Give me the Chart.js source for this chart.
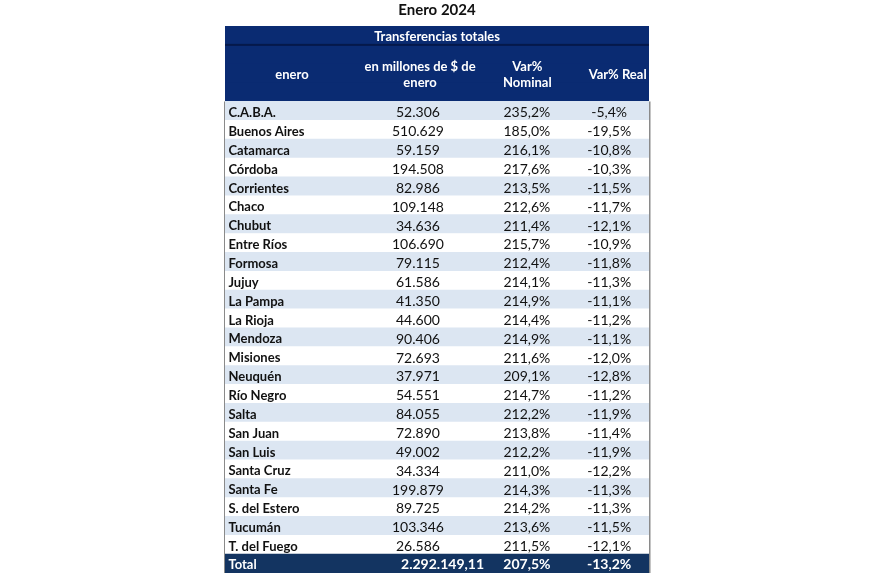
<!DOCTYPE html>
<html>
<head>
<meta charset="utf-8">
<script src="https://cdn.jsdelivr.net/npm/chart.js@4.4.1/dist/chart.umd.min.js"></script>
<style>
  html, body { margin: 0; padding: 0; background: #ffffff; }
  #wrap { width: 870px; height: 580px; }
</style>
</head>
<body>
<div id="wrap"><canvas id="c" width="870" height="580"></canvas></div>
<script>
// ---- Data ----
const provincias = ['C.A.B.A.', 'Buenos Aires', 'Catamarca', 'Córdoba', 'Corrientes', 'Chaco', 'Chubut', 'Entre Ríos', 'Formosa', 'Jujuy', 'La Pampa', 'La Rioja', 'Mendoza', 'Misiones', 'Neuquén', 'Río Negro', 'Salta', 'San Juan', 'San Luis', 'Santa Cruz', 'Santa Fe', 'S. del Estero', 'Tucumán', 'T. del Fuego'];
const montos = [52306, 510629, 59159, 194508, 82986, 109148, 34636, 106690, 79115, 61586, 41350, 44600, 90406, 72693, 37971, 54551, 84055, 72890, 49002, 34334, 199879, 89725, 103346, 26586];
const varNominal = [235.2, 185.0, 216.1, 217.6, 213.5, 212.6, 211.4, 215.7, 212.4, 214.1, 214.9, 214.4, 214.9, 211.6, 209.1, 214.7, 212.2, 213.8, 212.2, 211.0, 214.3, 214.2, 213.6, 211.5];
const varReal = [-5.4, -19.5, -10.8, -10.3, -11.5, -11.7, -12.1, -10.9, -11.8, -11.3, -11.1, -11.2, -11.1, -12.0, -12.8, -11.2, -11.9, -11.4, -11.9, -12.2, -11.3, -11.3, -11.5, -12.1];
const totalLabel = 'Total';
const totalMonto = 2292149.11;
const totalNominal = 207.5;
const totalReal = -13.2;
const titulo = 'Enero 2024';
const subtitulo = 'Transferencias totales';
const encabezados = [['enero'], ['en millones de $ de', 'enero'], ['Var%', 'Nominal'], ['Var% Real']];

// ---- Formatting helpers ----
function miles(n, dec) {
  const parts = n.toFixed(dec).split('.');
  const ent = parts[0].replace(/\B(?=(\d{3})+(?!\d))/g, '.');
  return parts.length > 1 ? ent + ',' + parts[1] : ent;
}
function pct(v) { return v.toFixed(1).replace('.', ',') + '%'; }

// ---- Rows of the table (band layout) ----
const HEADER_ROWS = 4; // 1 subtitle band + 3 header bands
const rowKeys = ['sub', 'h1', 'h2', 'h3'].concat(provincias.map((p, i) => 'p' + i)).concat(['total']);

const NAVY = '#0a2b72';
const NAVY_TOTAL = '#133461';
const LIGHT = '#dce6f2';
const bandColors = rowKeys.map((k, i) => {
  if (i < HEADER_ROWS) return NAVY;
  if (k === 'total') return NAVY_TOTAL;
  return ((i - HEADER_ROWS) % 2 === 0) ? LIGHT : '#ffffff';
});

// column anchor positions in x-scale units (0..100 across the table)
const COL = { name: 0.8, monto: 45.5, nominal: 71.2, real: 90.6, totalMonto: 51.3, hName: 15.8, hMonto: 46.0, hNominal: 71.3, hReal: 92.6, sub: 50 };

const FONT = 'Lato, "Open Sans", sans-serif';

const tablePlugin = {
  id: 'tableText',
  afterDatasetsDraw(chart) {
    const ctx = chart.ctx;
    const xs = chart.scales.x, ys = chart.scales.y;
    const X = v => xs.getPixelForValue(v);
    const Y = i => ys.getPixelForValue(i);
    const rowH = Math.abs(Y(1) - Y(0));
    ctx.save();
    ctx.textBaseline = 'middle';

    // separator between subtitle band and header
    ctx.fillStyle = '#05194a';
    ctx.fillRect(X(0), Y(0) + rowH / 2 - 1, X(100) - X(0), 2);

    // subtitle
    ctx.fillStyle = '#ffffff';
    ctx.textAlign = 'center';
    ctx.font = 'bold 13px ' + FONT;
    ctx.fillText(subtitulo, X(COL.sub), Y(0) + 1);

    // header labels
    const hx = [COL.hName, COL.hMonto, COL.hNominal, COL.hReal];
    const hc = Y(2) + 2;
    encabezados.forEach((lines, j) => {
      const n = lines.length;
      lines.forEach((t, k) => {
        ctx.fillText(t, X(hx[j]), hc + (k - (n - 1) / 2) * 16);
      });
    });

    // data rows
    provincias.forEach((p, i) => {
      const y = Y(HEADER_ROWS + i) + 2;
      ctx.fillStyle = '#111111';
      ctx.textAlign = 'left';
      ctx.font = 'bold 13px ' + FONT;
      ctx.fillText(p, X(COL.name), y);
      ctx.textAlign = 'center';
      ctx.font = '14px ' + FONT;
      ctx.fillText(miles(montos[i], 0), X(COL.monto), y);
      ctx.fillText(pct(varNominal[i]), X(COL.nominal), y);
      ctx.fillText(pct(varReal[i]), X(COL.real), y);
    });

    // total row
    const yt = Y(rowKeys.length - 1) + 1;
    ctx.fillStyle = '#ffffff';
    ctx.font = 'bold 13px ' + FONT;
    ctx.textAlign = 'left';
    ctx.fillText(totalLabel, X(COL.name), yt);
    ctx.textAlign = 'center';
    ctx.font = 'bold 14px ' + FONT;
    ctx.fillText(miles(totalMonto, 2), X(COL.totalMonto), yt);
    ctx.fillText(pct(totalNominal), X(COL.nominal), yt);
    ctx.fillText(pct(totalReal), X(COL.real), yt);

    // side borders of body
    ctx.fillStyle = '#8a8a8a';
    const top = Y(HEADER_ROWS) - rowH / 2;
    const bot = Y(rowKeys.length - 1) + rowH / 2;
    ctx.fillRect(X(0) - 1, top, 1, bot - top);
    ctx.fillRect(X(100), top, 1.5, bot - top);
    ctx.restore();
  }
};

new Chart(document.getElementById('c'), {
  type: 'bar',
  data: {
    labels: rowKeys,
    datasets: [{
      data: rowKeys.map(() => [0, 100]),
      backgroundColor: bandColors,
      borderWidth: 0,
      barPercentage: 1.0,
      categoryPercentage: 1.0
    }]
  },
  options: {
    indexAxis: 'y',
    responsive: false,
    animation: false,
    events: [],
    layout: { padding: { left: 225, right: 221, top: 0, bottom: 7 } },
    scales: {
      x: { type: 'linear', min: 0, max: 100, display: false },
      y: { type: 'category', display: false }
    },
    plugins: {
      legend: { display: false },
      tooltip: { enabled: false },
      title: {
        display: true,
        text: titulo,
        fullSize: false,
        color: '#111111',
        font: { family: FONT, size: 15, weight: 'bold' },
        padding: { top: 1, bottom: 7 }
      }
    }
  },
  plugins: [tablePlugin]
});
</script>
</body>
</html>
